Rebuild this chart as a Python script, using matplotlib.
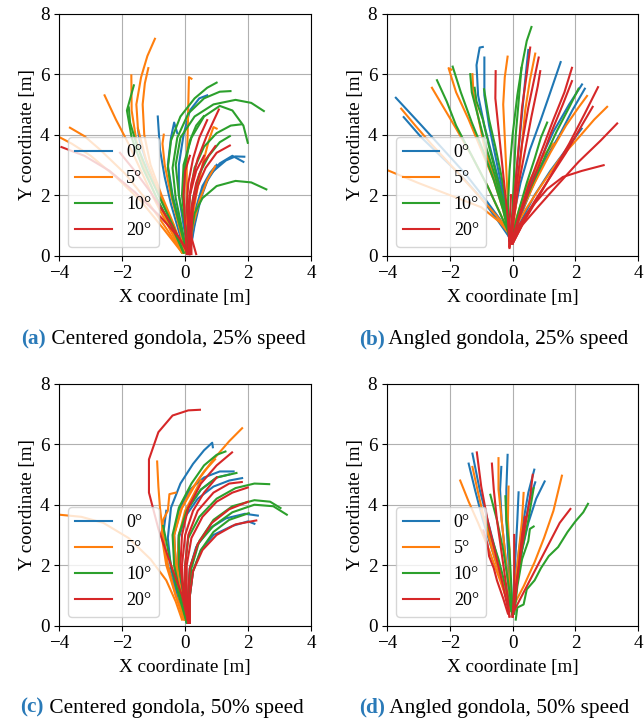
import matplotlib
matplotlib.use('Agg')
import matplotlib.pyplot as plt

plt.rcParams['font.family'] = ['Liberation Serif', 'DejaVu Serif']
plt.rcParams['mathtext.fontset'] = 'stix'
plt.rcParams['font.size'] = 13.8

# legend labels / colours (in drawing order)
angles = ['0°', '5°', '10°', '20°']
colors = ['#1f77b4', '#ff7f0e', '#2ca02c', '#d62728']

captions = [('(a)', 'Centered gondola, 25% speed'),
            ('(b)', 'Angled gondola, 25% speed'),
            ('(c)', 'Centered gondola, 50% speed'),
            ('(d)', 'Angled gondola, 50% speed')]

xticks = [-4, -2, 0, 2, 4]
yticks = [0, 2, 4, 6, 8]

# ---------- (a) centered gondola, 25% speed : trajectories (x, y) [m] ----------
a_blue = [
    [(0.0, 0.1), (-0.2, 0.8), (-0.45, 1.7), (-0.65, 2.6), (-0.8, 3.5), (-0.87, 4.6)],
    [(0.05, 0.1), (-0.15, 1.0), (-0.4, 2.0), (-0.55, 3.0), (-0.45, 3.9), (-0.35, 4.4), (-0.25, 4.05)],
    [(0.1, 0.1), (-0.05, 1.0), (-0.2, 2.0), (-0.2, 3.0), (-0.05, 4.0), (0.15, 4.8), (0.45, 5.2), (0.7, 5.3)],
    [(0.15, 0.1), (0.25, 0.8), (0.4, 1.6), (0.6, 2.3), (0.9, 2.8), (1.3, 3.15), (1.6, 3.28), (1.88, 3.27)],
    [(0.15, 0.1), (0.3, 1.0), (0.5, 1.9), (0.75, 2.6), (1.1, 3.05), (1.5, 3.3), (1.85, 3.1)],
    [(0.1, 0.1), (0.2, 0.8), (0.35, 1.6), (0.55, 2.3), (0.8, 2.75), (1.0, 3.0)],
    [(0.0, 0.1), (-0.4, 1.0), (-0.8, 2.0), (-1.2, 3.0), (-1.45, 3.8), (-1.5, 4.2)],
]
a_orange = [
    [(-0.05, 0.1), (-0.4, 1.0), (-0.85, 2.1), (-1.25, 3.2), (-1.5, 4.2), (-1.55, 5.0), (-1.4, 5.9), (-1.2, 6.6), (-0.96, 7.17)],
    [(-0.05, 0.1), (-0.35, 1.0), (-0.75, 2.0), (-1.1, 3.0), (-1.3, 4.0), (-1.35, 5.0), (-1.28, 5.7), (-1.17, 6.2)],
    [(-0.1, 0.1), (-0.5, 1.0), (-0.95, 2.0), (-1.3, 2.9), (-1.55, 3.8), (-1.7, 4.8), (-1.71, 5.96)],
    [(-0.1, 0.1), (-0.55, 1.0), (-1.0, 1.9), (-1.4, 2.8), (-1.8, 3.7), (-2.2, 4.5), (-2.56, 5.3)],
    [(-0.1, 0.1), (-0.6, 0.9), (-1.2, 1.8), (-1.9, 2.7), (-2.7, 3.5), (-3.2, 3.95), (-3.66, 4.23)],
    [(-0.1, 0.1), (-0.7, 0.9), (-1.4, 1.8), (-2.2, 2.6), (-3.0, 3.3), (-3.6, 3.7), (-4.0, 3.92)],
    [(0.0, 0.1), (0.05, 1.0), (0.05, 2.0), (0.05, 3.0), (0.08, 4.0), (0.1, 5.0), (0.12, 5.9), (0.2, 5.85)],
    [(0.1, 0.1), (0.2, 1.0), (0.35, 2.0), (0.55, 3.0), (0.75, 3.8), (0.9, 4.25), (1.0, 4.2)],
    [(0.1, 0.1), (0.25, 1.0), (0.45, 1.8), (0.7, 2.5), (0.95, 2.95)],
    [(0.0, 0.1), (-0.2, 1.0), (-0.45, 2.0), (-0.65, 3.0), (-0.72, 3.7), (-0.68, 4.0)],
]
a_green = [
    [(-0.05, 0.1), (-0.4, 0.9), (-0.9, 1.9), (-1.35, 2.9), (-1.7, 3.9), (-1.85, 4.8), (-1.63, 5.63)],
    [(-0.05, 0.1), (-0.35, 0.9), (-0.8, 1.9), (-1.2, 2.8), (-1.55, 3.7), (-1.75, 4.4), (-1.79, 4.9)],
    [(0.05, 0.1), (-0.15, 0.9), (-0.4, 1.9), (-0.55, 2.9), (-0.45, 3.8), (-0.15, 4.6), (0.3, 5.2), (0.7, 5.55), (1.0, 5.72)],
    [(0.05, 0.1), (-0.1, 0.9), (-0.3, 1.9), (-0.4, 2.9), (-0.25, 3.9), (0.1, 4.7), (0.6, 5.2), (1.1, 5.42), (1.44, 5.44)],
    [(0.1, 0.1), (0.0, 1.0), (-0.2, 2.0), (-0.3, 3.0), (-0.15, 3.9), (0.3, 4.6), (0.9, 5.0), (1.6, 5.15), (2.1, 5.05), (2.5, 4.78)],
    [(0.1, 0.1), (0.0, 1.0), (-0.1, 2.0), (-0.05, 3.0), (0.2, 3.9), (0.6, 4.6), (1.1, 4.95), (1.5, 4.8), (1.85, 4.3), (1.99, 3.73)],
    [(0.1, 0.1), (0.1, 1.0), (0.15, 2.0), (0.3, 2.9), (0.6, 3.6), (1.0, 4.05), (1.45, 4.3), (1.78, 4.34)],
    [(0.1, 0.1), (0.15, 1.0), (0.25, 1.9), (0.45, 2.7), (0.75, 3.3), (1.1, 3.75), (1.42, 3.95)],
    [(0.15, 0.2), (0.2, 0.8), (0.3, 1.4), (0.55, 1.9), (1.0, 2.3), (1.6, 2.47), (2.1, 2.42), (2.58, 2.19)],
    [(0.05, 0.1), (0.0, 1.0), (-0.05, 2.0), (0.0, 3.0), (0.15, 3.8), (0.35, 4.3), (0.59, 4.61)],
]
a_red = [
    [(0.15, 0.05), (0.1, 0.8), (0.1, 1.6), (0.2, 2.4), (0.4, 3.2), (0.7, 4.0), (1.07, 4.83)],
    [(0.15, 0.05), (0.1, 0.8), (0.05, 1.6), (0.1, 2.4), (0.25, 3.2), (0.45, 3.9), (0.7, 4.48)],
    [(0.2, 0.05), (0.2, 0.8), (0.25, 1.6), (0.4, 2.3), (0.65, 2.9), (1.0, 3.4), (1.42, 3.64)],
    [(0.15, 0.05), (0.15, 0.8), (0.2, 1.6), (0.35, 2.4), (0.6, 3.1), (0.96, 3.62)],
    [(0.1, 0.05), (0.1, 1.0), (0.15, 2.0), (0.35, 2.8), (0.6, 3.3)],
    [(0.15, 0.05), (-0.2, 0.6), (-0.8, 1.3), (-1.6, 2.1), (-2.4, 2.8), (-3.2, 3.3), (-3.93, 3.59)],
    [(0.1, 0.05), (-0.2, 0.6), (-0.6, 1.3), (-1.1, 2.1), (-1.6, 2.8), (-2.07, 3.4)],
    [(0.05, 0.05), (0.0, 1.0), (-0.05, 2.0), (0.0, 2.8), (0.15, 3.3)],
    [(0.35, 0.05), (0.2, 0.6), (0.1, 1.5)],
]

# ---------- (b) angled gondola, 25% speed ----------
b_blue = [
    [(-0.1, 0.5), (-0.2, 1.3), (-0.4, 2.3), (-0.65, 3.3), (-0.9, 4.3), (-1.1, 5.3), (-1.15, 6.3), (-1.05, 6.88), (-0.95, 6.9)],
    [(-0.1, 0.5), (-0.2, 1.3), (-0.35, 2.3), (-0.55, 3.3), (-0.75, 4.3), (-0.9, 5.3), (-0.9, 6.0), (-0.9, 6.55)],
    [(-0.1, 0.6), (-0.4, 1.2), (-0.9, 1.9), (-1.5, 2.7), (-2.2, 3.5), (-2.9, 4.3), (-3.72, 5.22)],
    [(-0.1, 0.6), (-0.5, 1.2), (-1.0, 1.9), (-1.6, 2.6), (-2.3, 3.3), (-2.9, 3.9), (-3.47, 4.58)],
    [(-0.05, 0.6), (0.05, 1.4), (0.25, 2.4), (0.55, 3.5), (0.9, 4.5), (1.2, 5.4), (1.53, 6.4)],
    [(0.0, 0.6), (0.2, 1.3), (0.5, 2.2), (0.9, 3.2), (1.3, 4.1), (1.8, 5.0), (2.21, 5.66)],
    [(0.0, 0.6), (0.25, 1.3), (0.6, 2.2), (1.0, 3.1), (1.5, 4.0), (1.9, 4.8), (2.3, 5.52)],
    [(-0.1, 0.5), (0.0, 1.4), (0.1, 2.5), (0.2, 3.6), (0.3, 4.7), (0.4, 5.8), (0.5, 6.8)],
    [(0.0, 0.6), (0.3, 1.2), (0.7, 2.0), (1.2, 2.8), (1.7, 3.5), (2.2, 4.2)],
]
b_orange = [
    [(-0.1, 0.7), (-0.3, 1.5), (-0.6, 2.5), (-1.0, 3.5), (-1.4, 4.5), (-1.8, 5.4), (-2.04, 6.2), (-1.95, 6.15)],
    [(-0.1, 0.7), (-0.4, 1.4), (-0.8, 2.3), (-1.3, 3.3), (-1.8, 4.2), (-2.2, 4.9), (-2.57, 5.55)],
    [(-0.1, 0.8), (-0.5, 1.3), (-1.1, 2.0), (-1.8, 2.8), (-2.6, 3.7), (-3.1, 4.3), (-3.55, 4.86)],
    [(-0.1, 0.7), (-0.4, 1.1), (-1.0, 1.6), (-2.0, 2.0), (-3.0, 2.4), (-4.0, 2.83)],
    [(-0.1, 0.7), (-0.3, 1.6), (-0.6, 2.6), (-0.9, 3.6), (-1.1, 4.6), (-1.25, 5.4), (-1.28, 6.0)],
    [(-0.1, 0.7), (-0.15, 1.7), (-0.2, 2.8), (-0.25, 3.9), (-0.3, 5.0), (-0.25, 5.9), (-0.16, 6.58)],
    [(-0.05, 0.7), (0.1, 1.6), (0.2, 2.6), (0.3, 3.7), (0.4, 4.8), (0.55, 5.8), (0.72, 6.68)],
    [(0.0, 0.8), (0.4, 1.5), (0.9, 2.3), (1.5, 3.2), (2.1, 3.9), (2.6, 4.5), (3.01, 4.92)],
    [(0.0, 0.8), (0.3, 1.5), (0.7, 2.4), (1.2, 3.4), (1.7, 4.3), (2.1, 4.9), (2.37, 5.28)],
    [(-0.05, 0.7), (0.2, 1.5), (0.5, 2.4), (0.9, 3.2), (1.3, 3.7)],
]
b_green = [
    [(-0.1, 0.6), (-0.15, 1.6), (-0.1, 2.8), (0.0, 4.0), (0.15, 5.3), (0.3, 6.3), (0.45, 7.1), (0.6, 7.56)],
    [(-0.1, 0.6), (-0.3, 1.5), (-0.6, 2.5), (-0.95, 3.5), (-1.3, 4.4), (-1.65, 5.4), (-1.91, 6.25)],
    [(-0.1, 0.7), (-0.4, 1.4), (-0.8, 2.3), (-1.3, 3.3), (-1.8, 4.3), (-2.1, 5.1), (-2.41, 5.8)],
    [(-0.1, 0.6), (-0.3, 1.6), (-0.55, 2.6), (-0.85, 3.6), (-1.1, 4.6), (-1.3, 5.4), (-1.35, 6.0)],
    [(-0.1, 0.6), (-0.25, 1.6), (-0.5, 2.6), (-0.75, 3.6), (-0.95, 4.5), (-1.15, 5.1), (-1.21, 5.55)],
    [(-0.1, 0.6), (-0.2, 1.6), (-0.35, 2.6), (-0.55, 3.6), (-0.75, 4.5), (-0.91, 5.5)],
    [(-0.05, 0.6), (0.0, 1.6), (0.05, 2.8), (0.1, 4.0), (0.2, 5.2), (0.28, 6.21)],
    [(0.0, 0.6), (0.25, 1.4), (0.6, 2.3), (1.0, 3.2), (1.4, 4.1), (1.8, 4.9), (2.1, 5.52)],
    [(0.0, 0.7), (0.2, 1.5), (0.45, 2.4), (0.7, 3.2), (0.9, 3.9), (1.1, 4.4)],
]
b_red = [
    [(-0.1, 0.3), (-0.15, 1.2), (-0.25, 2.2), (-0.35, 3.2), (-0.45, 4.2), (-0.55, 5.2), (-0.54, 6.1)],
    [(-0.1, 0.3), (0.0, 1.3), (0.1, 2.5), (0.2, 3.7), (0.3, 4.9), (0.45, 6.0), (0.56, 6.88)],
    [(-0.1, 0.3), (0.0, 1.3), (0.15, 2.5), (0.3, 3.7), (0.5, 4.9), (0.7, 5.9), (0.83, 6.55)],
    [(-0.05, 0.4), (0.05, 1.3), (0.2, 2.4), (0.4, 3.5), (0.6, 4.6), (0.8, 5.6), (0.88, 6.1)],
    [(-0.05, 0.4), (0.2, 1.3), (0.5, 2.3), (0.9, 3.4), (1.3, 4.5), (1.65, 5.4), (1.89, 6.21)],
    [(-0.05, 0.4), (0.2, 1.2), (0.5, 2.1), (0.85, 3.0), (1.2, 4.0), (1.6, 5.0), (1.89, 5.77)],
    [(0.0, 0.4), (0.35, 1.1), (0.8, 1.9), (1.3, 2.8), (1.8, 3.7), (2.3, 4.7), (2.72, 5.57)],
    [(0.0, 0.4), (0.3, 1.1), (0.7, 1.8), (1.2, 2.6), (1.7, 3.4), (2.2, 4.3), (2.55, 4.92)],
    [(0.0, 0.4), (0.3, 1.0), (0.8, 1.6), (1.4, 2.3), (2.1, 3.1), (2.8, 3.8), (3.33, 4.37)],
    [(0.0, 0.4), (0.2, 1.0), (0.6, 1.6), (1.1, 2.2), (1.6, 2.6), (2.2, 2.8), (2.9, 2.99)],
    [(-0.1, 0.25), (-0.1, 1.0), (-0.05, 2.0)],
]

# ---------- (c) centered gondola, 50% speed ----------
c_blue = [
    [(0.05, 0.1), (-0.2, 0.9), (-0.45, 1.9), (-0.55, 2.9), (-0.45, 3.9), (-0.15, 4.7), (0.25, 5.35), (0.6, 5.8), (0.86, 6.05), (0.88, 5.9)],
    [(0.1, 0.1), (-0.1, 1.0), (-0.3, 2.0), (-0.35, 3.0), (-0.2, 3.8), (0.15, 4.5), (0.6, 4.9), (1.1, 5.1), (1.54, 5.1)],
    [(0.1, 0.1), (-0.05, 1.0), (-0.2, 2.0), (-0.2, 2.9), (0.0, 3.6), (0.4, 4.2), (0.9, 4.6), (1.4, 4.8), (1.81, 4.88)],
    [(0.15, 0.1), (0.1, 1.0), (0.15, 1.9), (0.35, 2.6), (0.75, 3.2), (1.3, 3.55), (1.9, 3.7), (2.31, 3.64)],
    [(0.15, 0.1), (0.15, 1.0), (0.25, 1.8), (0.5, 2.5), (0.9, 3.0), (1.5, 3.3), (2.0, 3.45), (2.2, 3.37)],
    [(0.05, 0.1), (-0.25, 1.0), (-0.55, 2.0), (-0.7, 3.0), (-0.6, 3.8)],
    [(0.1, 0.1), (-0.1, 1.0), (-0.25, 2.0), (-0.2, 3.0), (0.1, 3.9), (0.5, 4.5), (1.0, 4.9), (1.4, 5.0)],
]
c_orange = [
    [(0.05, 0.2), (-0.1, 1.0), (-0.3, 2.0), (-0.35, 3.0), (-0.1, 3.9), (0.4, 4.8), (0.9, 5.5), (1.4, 6.1), (1.81, 6.53)],
    [(0.0, 0.2), (-0.3, 1.0), (-0.55, 2.0), (-0.7, 3.0), (-0.8, 3.9), (-0.85, 4.6), (-0.89, 5.43)],
    [(-0.1, 0.2), (-0.3, 0.8), (-0.6, 1.5), (-1.1, 2.2), (-1.8, 2.9), (-2.6, 3.4), (-3.3, 3.6), (-4.0, 3.67)],
    [(0.0, 0.2), (-0.2, 1.0), (-0.35, 2.0), (-0.35, 3.0), (-0.15, 3.8), (0.2, 4.5), (0.6, 5.1), (0.95, 5.5)],
    [(0.0, 0.2), (-0.15, 1.0), (-0.25, 2.0), (-0.2, 3.0), (0.0, 3.8), (0.3, 4.4), (0.5, 4.8)],
    [(-0.05, 0.2), (-0.3, 1.0), (-0.6, 2.0), (-0.75, 3.0), (-0.7, 3.5), (-0.55, 3.8), (-0.5, 4.35), (-0.3, 4.4)],
]
c_green = [
    [(0.05, 0.1), (-0.15, 1.0), (-0.35, 2.0), (-0.4, 3.0), (-0.2, 3.9), (0.2, 4.7), (0.6, 5.3), (1.0, 5.65), (1.28, 5.76)],
    [(0.1, 0.1), (-0.05, 1.0), (-0.2, 2.0), (-0.2, 3.0), (0.05, 3.8), (0.5, 4.5), (1.0, 4.9), (1.63, 5.05)],
    [(0.1, 0.1), (0.0, 1.0), (0.0, 2.0), (0.1, 2.9), (0.45, 3.6), (1.0, 4.2), (1.6, 4.55), (2.2, 4.7), (2.67, 4.68)],
    [(0.15, 0.1), (0.1, 1.0), (0.15, 1.9), (0.4, 2.7), (0.9, 3.3), (1.5, 3.75), (2.2, 4.0), (2.8, 3.95), (3.23, 3.67)],
    [(0.15, 0.1), (0.1, 1.0), (0.2, 1.9), (0.45, 2.8), (0.9, 3.5), (1.5, 3.95), (2.2, 4.15), (2.7, 4.1), (3.03, 3.89)],
    [(0.15, 0.1), (0.15, 1.0), (0.25, 1.8), (0.5, 2.5), (0.9, 3.1), (1.4, 3.5), (2.02, 3.72)],
    [(0.05, 0.1), (-0.2, 1.0), (-0.45, 2.0), (-0.6, 2.8), (-0.7, 3.3)],
]
c_red = [
    [(0.1, 0.1), (-0.1, 1.0), (-0.45, 2.0), (-0.85, 3.2), (-1.15, 4.4), (-1.15, 5.5), (-0.85, 6.4), (-0.4, 6.95), (0.1, 7.12), (0.47, 7.14)],
    [(0.1, 0.1), (-0.05, 1.0), (-0.15, 2.0), (-0.1, 3.0), (0.1, 3.9), (0.5, 4.7), (1.0, 5.3), (1.49, 5.73)],
    [(0.1, 0.1), (0.05, 1.0), (0.05, 2.0), (0.2, 2.9), (0.55, 3.6), (1.0, 4.1), (1.5, 4.4), (1.99, 4.57)],
    [(0.15, 0.1), (0.1, 1.0), (0.15, 1.9), (0.4, 2.7), (0.85, 3.4), (1.4, 3.85), (2.0, 4.1)],
    [(0.15, 0.1), (0.15, 1.0), (0.25, 1.8), (0.55, 2.5), (1.0, 3.0), (1.6, 3.35), (2.26, 3.48)],
    [(0.1, 0.1), (0.0, 1.0), (0.0, 2.0), (0.1, 3.0), (0.4, 3.8), (0.9, 4.4), (1.4, 4.7), (1.8, 4.75)],
    [(0.1, 0.1), (-0.05, 1.0), (-0.1, 2.0), (0.0, 3.0), (0.25, 3.8), (0.6, 4.4), (1.0, 4.9)],
]

# ---------- (d) angled gondola, 50% speed ----------
d_blue = [
    [(-0.1, 0.5), (-0.3, 1.5), (-0.55, 2.5), (-0.8, 3.5), (-1.05, 4.5), (-1.28, 5.69)],
    [(-0.1, 0.5), (-0.35, 1.5), (-0.65, 2.5), (-0.95, 3.5), (-1.2, 4.5), (-1.4, 5.36)],
    [(-0.05, 0.5), (-0.1, 1.5), (-0.15, 2.5), (-0.2, 3.5), (-0.2, 4.5), (-0.16, 5.65)],
    [(-0.05, 0.5), (-0.15, 1.5), (-0.25, 2.5), (-0.35, 3.5), (-0.4, 4.5), (-0.36, 5.25)],
    [(0.0, 0.5), (0.1, 1.5), (0.2, 2.5), (0.35, 3.5), (0.5, 4.4), (0.69, 5.16)],
    [(0.0, 0.5), (0.15, 1.5), (0.3, 2.5), (0.5, 3.4), (0.75, 4.2), (1.02, 4.77)],
    [(0.0, 0.5), (0.1, 1.5), (0.25, 2.5), (0.4, 3.4), (0.55, 4.2), (0.72, 4.74)],
    [(0.0, 0.5), (0.05, 1.5), (0.1, 2.5), (0.15, 3.5), (0.19, 4.41)],
]
d_orange = [
    [(-0.1, 0.6), (-0.4, 1.5), (-0.75, 2.5), (-1.1, 3.4), (-1.4, 4.1), (-1.67, 4.8)],
    [(-0.05, 0.5), (-0.15, 1.5), (-0.25, 2.5), (-0.35, 3.5), (-0.45, 4.5), (-0.45, 5.54)],
    [(0.0, 0.6), (0.35, 1.3), (0.7, 2.1), (1.0, 2.9), (1.3, 3.8), (1.57, 4.96)],
    [(-0.1, 0.5), (-0.35, 1.5), (-0.65, 2.5), (-0.9, 3.5), (-1.1, 4.4), (-1.28, 5.25)],
    [(-0.05, 0.5), (-0.1, 1.5), (-0.1, 2.5), (-0.15, 3.5), (-0.13, 4.6)],
    [(0.0, 0.5), (0.1, 1.5), (0.2, 2.5), (0.3, 3.5), (0.35, 4.39)],
    [(-0.05, 0.6), (-0.3, 1.5), (-0.55, 2.4), (-0.8, 3.2), (-1.0, 3.8)],
]
d_green = [
    [(0.1, 0.2), (0.15, 0.6), (0.35, 0.7), (0.45, 1.2), (0.7, 1.5), (0.9, 1.9), (1.15, 2.3), (1.45, 2.6), (1.75, 3.1), (2.0, 3.45), (2.25, 3.75), (2.4, 4.03)],
    [(0.0, 0.4), (-0.15, 1.5), (-0.3, 2.5), (-0.5, 3.5), (-0.71, 4.33)],
    [(0.05, 0.4), (0.15, 1.5), (0.3, 2.5), (0.5, 3.5), (0.67, 4.55)],
    [(0.05, 0.4), (0.15, 1.3), (0.3, 2.2), (0.5, 2.8), (0.55, 3.2), (0.67, 3.28)],
    [(0.0, 0.4), (-0.05, 1.5), (-0.1, 2.5), (-0.2, 3.5), (-0.23, 4.28)],
    [(0.0, 0.3), (-0.2, 1.2), (-0.45, 2.2), (-0.7, 3.0), (-0.85, 3.6)],
]
d_red = [
    [(-0.1, 0.3), (-0.3, 1.3), (-0.55, 2.4), (-0.8, 3.5), (-1.0, 4.6), (-1.14, 5.73)],
    [(-0.1, 0.3), (-0.2, 1.3), (-0.35, 2.4), (-0.5, 3.5), (-0.6, 4.5), (-0.66, 5.36)],
    [(0.0, 0.3), (0.1, 1.3), (0.25, 2.3), (0.4, 3.3), (0.55, 4.2), (0.64, 4.99)],
    [(0.0, 0.4), (0.3, 1.0), (0.6, 1.6), (0.9, 2.2), (1.2, 2.8), (1.5, 3.4), (1.84, 3.86)],
    [(-0.15, 0.4), (-0.3, 0.9), (-0.5, 1.5), (-0.6, 1.9), (-0.75, 2.3), (-0.8, 2.7), (-0.93, 3.15)],
    [(0.0, 0.3), (0.05, 1.2), (0.05, 2.0), (0.05, 3.0)],
    [(0.0, 0.3), (0.1, 1.0), (0.2, 2.0), (0.3, 3.0), (0.4, 3.6)],
]

panels = [
    [a_blue, a_orange, a_green, a_red],
    [b_blue, b_orange, b_green, b_red],
    [c_blue, c_orange, c_green, c_red],
    [d_blue, d_orange, d_green, d_red],
]

fig = plt.figure(figsize=(6.44, 7.2), dpi=100)

# axes rectangles [left, bottom, width, height] in figure fractions
rects = [[0.092, 0.645, 0.391, 0.336],
         [0.601, 0.645, 0.390, 0.336],
         [0.092, 0.131, 0.391, 0.336],
         [0.601, 0.131, 0.390, 0.336]]
cap_pos = [(0.033, 0.515), (0.557, 0.515), (0.032, 0.003), (0.557, 0.003)]

for k in range(4):
    ax = fig.add_axes(rects[k])
    for series, col, lab in zip(panels[k], colors, angles):
        for j, traj in enumerate(series):
            xs = [p[0] for p in traj]
            ys = [p[1] for p in traj]
            ax.plot(xs, ys, color=col, lw=1.5, label=lab if j == 0 else None)
    ax.set_xlim(-4, 4)
    ax.set_ylim(0, 8)
    ax.set_xticks(xticks)
    ax.set_yticks(yticks)
    ax.grid(True, color='#b0b0b0', lw=0.8)
    ax.set_axisbelow(True)
    ax.set_xlabel('X coordinate [m]', labelpad=5)
    ax.set_ylabel('Y coordinate [m]', labelpad=3)
    ax.legend(loc='lower left', fontsize=13)

    # subfigure caption: bold blue letter + plain text
    tag, txt = captions[k]
    t1 = fig.text(cap_pos[k][0], cap_pos[k][1], tag, fontsize=15.3,
                  fontweight='bold', color='#2a7ab8', va='bottom')
    ax.annotate(' ' + txt, xy=(1, 0), xycoords=t1, xytext=(0, 0),
                textcoords='offset points', fontsize=15.3, va='bottom',
                annotation_clip=False)

plt.savefig('out.png', dpi=100)
